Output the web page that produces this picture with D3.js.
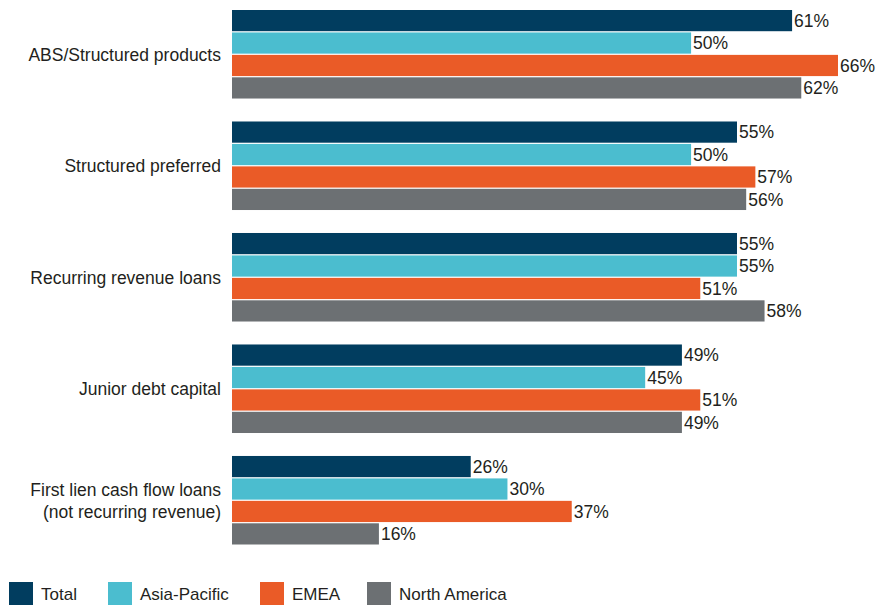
<!DOCTYPE html>
<html>
<head>
<meta charset="utf-8">
<script src="https://cdn.jsdelivr.net/npm/d3@7"></script>
<style>
  html, body { margin: 0; padding: 0; background: #fff; }
  svg { display: block; }
  text { font-family: "Liberation Sans", Arial, sans-serif; fill: #231f20; }
</style>
</head>
<body>
<svg id="chart" width="887" height="605"></svg>
<script>
// Share of respondents by asset type and region
const categories = [
  "ABS/Structured products",
  "Structured preferred",
  "Recurring revenue loans",
  "Junior debt capital",
  "First lien cash flow loans\n(not recurring revenue)"
];
const seriesNames = ["Total", "Asia-Pacific", "EMEA", "North America"];
const total        = [61, 55, 55, 49, 26];
const asiaPacific  = [50, 50, 55, 45, 30];
const emea         = [66, 57, 51, 51, 37];
const northAmerica = [62, 56, 58, 49, 16];
const seriesColors = ["#013d5f", "#4bbdcf", "#ea5b27", "#6c7073"];

const seriesValues = [total, asiaPacific, emea, northAmerica];

const svg = d3.select("#chart");

const x = d3.scaleLinear().domain([0, 66]).range([232, 838]);

const y0 = d3.scaleBand()
  .domain(categories)
  .range([10, 544.5])
  .paddingInner(0.206)
  .paddingOuter(0);

const y1 = d3.scaleBand()
  .domain(seriesNames)
  .range([0, y0.bandwidth()])
  .paddingInner(0.055)
  .paddingOuter(0);

const groups = svg.append("g")
  .selectAll("g")
  .data(categories)
  .join("g")
  .attr("transform", d => `translate(0,${y0(d)})`);

groups.each(function(cat, ci) {
  const g = d3.select(this);
  const rows = seriesNames.map((s, si) => ({ s, si, v: seriesValues[si][ci] }));

  g.selectAll("rect")
    .data(rows)
    .join("rect")
    .attr("x", x(0))
    .attr("y", d => y1(d.s))
    .attr("width", d => x(d.v) - x(0))
    .attr("height", y1.bandwidth())
    .attr("fill", d => seriesColors[d.si]);

  g.selectAll("text.val")
    .data(rows)
    .join("text")
    .attr("class", "val")
    .attr("x", d => x(d.v) + 2)
    .attr("y", d => y1(d.s) + y1.bandwidth() / 2)
    .attr("dy", "0.36em")
    .attr("font-size", 17.5)
    .text(d => d.v + "%");

  // category label, right aligned and centred on the group
  const lines = cat.split("\n");
  const lh = 22;
  const cy = y0.bandwidth() / 2;
  const lbl = g.append("text")
    .attr("text-anchor", "end")
    .attr("font-size", 17.5);
  lines.forEach((ln, li) => {
    lbl.append("tspan")
      .attr("x", 221)
      .attr("y", cy + (li - (lines.length - 1) / 2) * lh)
      .attr("dy", "0.36em")
      .text(ln);
  });
});

// legend
const legendX = [9, 108, 260, 367];
const legend = svg.append("g")
  .selectAll("g")
  .data(seriesNames)
  .join("g")
  .attr("transform", (d, i) => `translate(${legendX[i]},582)`);

legend.append("rect")
  .attr("width", 24)
  .attr("height", 24)
  .attr("fill", (d, i) => seriesColors[i]);

legend.append("text")
  .attr("x", 32)
  .attr("y", 12)
  .attr("dy", "0.36em")
  .attr("font-size", 17)
  .text(d => d);
</script>
</body>
</html>
